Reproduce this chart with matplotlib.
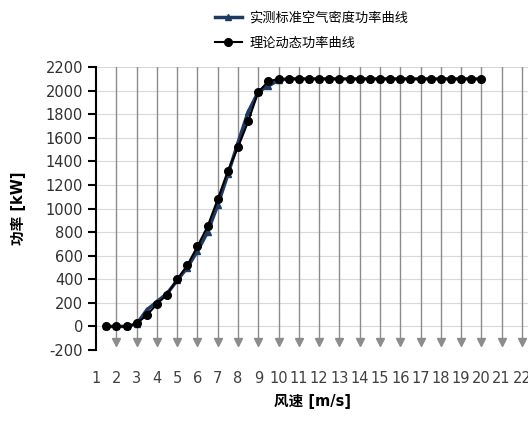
import matplotlib.pyplot as plt
import numpy as np

plt.rcParams['font.family'] = ['DejaVu Sans', 'Noto Sans CJK SC']
plt.rcParams['axes.unicode_minus'] = False

# wind speed [m/s]
wind = [1.5, 2, 2.5, 3, 3.5, 4, 4.5, 5, 5.5, 6, 6.5, 7, 7.5, 8, 8.5, 9, 9.5, 10,
        10.5, 11, 11.5, 12, 12.5, 13, 13.5, 14, 14.5, 15, 15.5, 16, 16.5, 17,
        17.5, 18, 18.5, 19, 19.5, 20]

# measured power curve (standard air density)
measured = [0, 0, 0, 20, 140, 210, 280, 390, 500, 640, 800, 1030, 1290, 1560, 1820, 1990, 2040, 2090,
            2100, 2100, 2100, 2100, 2100, 2100, 2100, 2100, 2100, 2100, 2100, 2100, 2100, 2100,
            2100, 2100, 2100, 2100, 2100, 2100]

# theoretical dynamic power curve
theory = [0, 0, 0, 25, 95, 190, 270, 400, 520, 680, 850, 1080, 1320, 1520, 1740, 1990, 2080, 2100,
          2100, 2100, 2100, 2100, 2100, 2100, 2100, 2100, 2100, 2100, 2100, 2100, 2100, 2100,
          2100, 2100, 2100, 2100, 2100, 2100]

xticks = list(range(1, 23))
yticks = list(range(-200, 2201, 200))

fig = plt.figure(figsize=(5.28, 4.21), dpi=100)
ax = fig.add_axes([0.182, 0.1686, 0.818, 0.672])

# grey drop lines with arrow heads at each category
for x in xticks[1:]:
    ax.plot([x, x], [2200, -150], color='#8c8c8c', lw=1, zorder=1)
    ax.plot(x, -135, marker='v', color='#8c8c8c', markersize=6, zorder=1)

for y in yticks:
    ax.axhline(y, color='#d9d9d9', lw=0.8, zorder=0)

ax.plot(wind, measured, color='#1f3a60', lw=2.5, marker='^', markersize=5,
        label='实测标准空气密度功率曲线', zorder=3)
ax.plot(wind, theory, color='black', lw=1.5, marker='o', markersize=5.5,
        label='理论动态功率曲线', zorder=4)

ax.set_xlim(1, 22.3)
ax.set_ylim(-200, 2200)
ax.set_xticks(xticks)
ax.set_yticks(yticks)
ax.tick_params(axis='x', length=0, pad=15, labelsize=10.5, labelcolor='#404040')
ax.tick_params(axis='y', length=6, width=1.5, direction='out', labelsize=10.5, labelcolor='#303030')

for s in ['top', 'right', 'bottom']:
    ax.spines[s].set_visible(False)
ax.spines['left'].set_linewidth(1.5)

ax.set_xlabel('风速 [m/s]', fontsize=10.5, fontweight='bold', labelpad=6)
ax.set_ylabel('功率 [kW]', fontsize=10.5, fontweight='bold', labelpad=14)

fig.legend(loc='upper left', bbox_to_anchor=(0.385, 1.0), frameon=False, fontsize=9.5,
           handlelength=2.0, handletextpad=0.6, labelspacing=0.9)

plt.savefig('out.png')
